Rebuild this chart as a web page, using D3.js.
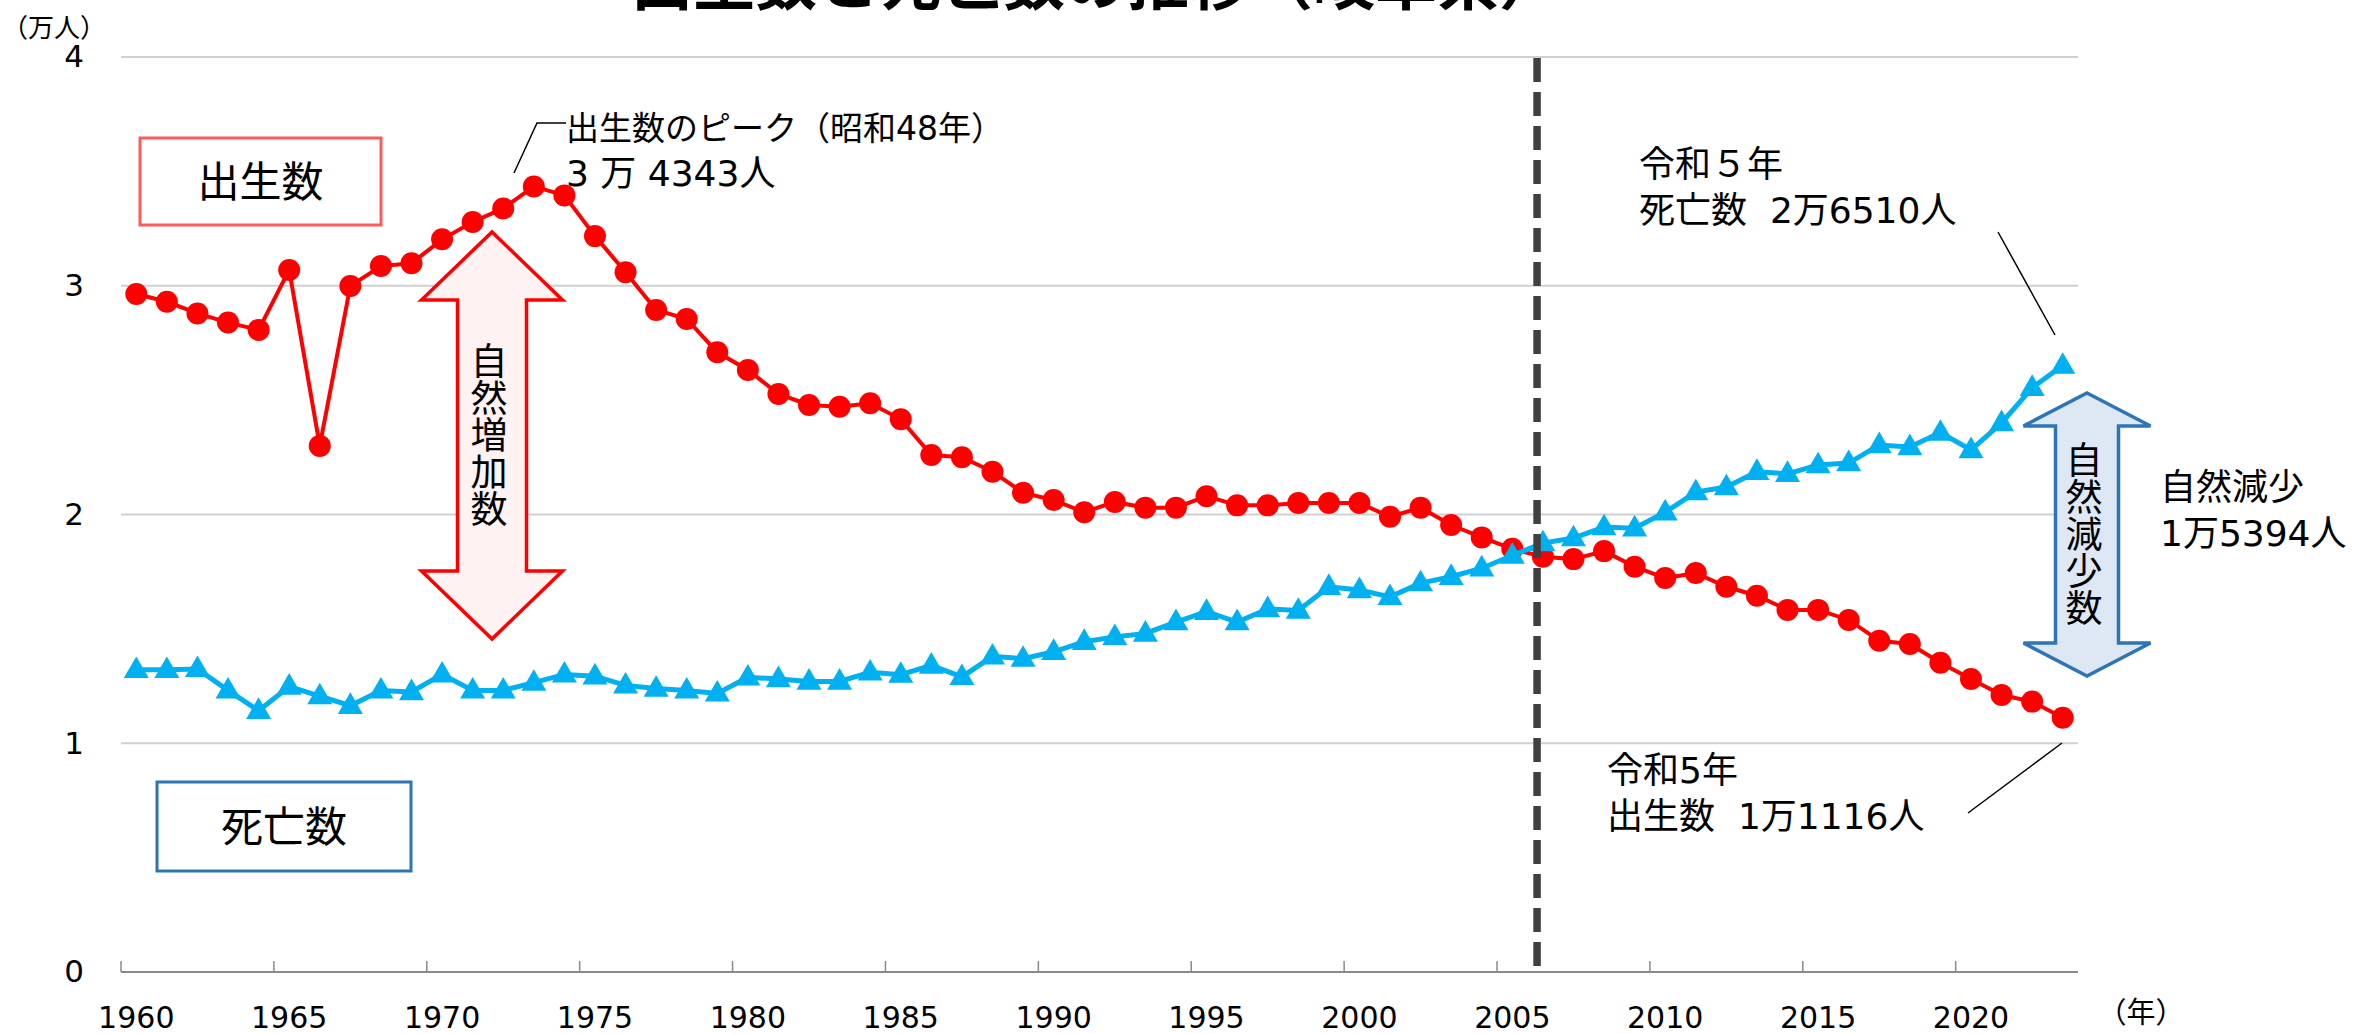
<!DOCTYPE html>
<html>
<head>
<meta charset="utf-8">
<script src="https://cdn.jsdelivr.net/npm/d3@7"></script>
<style>
  body { margin: 0; background: #fff; }
  svg { display: block; }
  text { font-family: "DejaVu Sans", "Noto Sans CJK JP", sans-serif; fill: #000; }
  .cjk { font-family: "Noto Sans CJK JP", "Noto Sans", sans-serif; }
</style>
</head>
<body>
<div id="chart"></div>
<script>
// ===== data (万人) =====
var years = d3.range(1960, 2024);
var tickYears = [1960, 1965, 1970, 1975, 1980, 1985, 1990, 1995, 2000, 2005, 2010, 2015, 2020];
var yTicks = [0, 1, 2, 3, 4];

var births = [2.964, 2.930, 2.879, 2.839, 2.807, 3.069, 2.300, 2.999, 3.086, 3.098,
              3.203, 3.279, 3.338, 3.4343, 3.395, 3.217, 3.059, 2.894, 2.855, 2.709,
              2.632, 2.527, 2.479, 2.471, 2.486, 2.416, 2.260, 2.250, 2.187, 2.095,
              2.063, 2.010, 2.055, 2.030, 2.030, 2.080, 2.040, 2.040, 2.050, 2.050,
              2.050, 1.990, 2.030, 1.954, 1.900, 1.850, 1.815, 1.805, 1.840, 1.772,
              1.722, 1.744, 1.684, 1.645, 1.583, 1.583, 1.539, 1.448, 1.434, 1.352,
              1.281, 1.211, 1.182, 1.1116];

var deaths = [1.321, 1.321, 1.325, 1.231, 1.142, 1.248, 1.206, 1.164, 1.231, 1.224,
              1.301, 1.231, 1.231, 1.265, 1.301, 1.293, 1.253, 1.239, 1.231, 1.218,
              1.288, 1.281, 1.270, 1.270, 1.310, 1.300, 1.340, 1.290, 1.380, 1.370,
              1.400, 1.444, 1.465, 1.480, 1.530, 1.575, 1.530, 1.587, 1.580, 1.684,
              1.670, 1.640, 1.700, 1.728, 1.765, 1.821, 1.875, 1.897, 1.945, 1.940,
              2.010, 2.098, 2.120, 2.187, 2.178, 2.216, 2.225, 2.304, 2.295, 2.358,
              2.282, 2.400, 2.554, 2.651];

var W = 2363, H = 1034;
var plotL = 121, plotR = 2078, plotT = 57, plotB = 972;

var svg = d3.select("#chart").append("svg")
    .attr("width", W)
    .attr("height", H);

// scales
var x = d3.scaleBand().domain(years).range([plotL, plotR]).padding(0);
var px = function(yr) { return x(yr) + x.bandwidth() / 2; };
var y = d3.scaleLinear().domain([0, 4]).range([plotB, plotT]);

// Title (cut off at the top edge)
svg.append("text")
    .attr("class", "cjk")
    .attr("x", 1096).attr("y", 5)
    .attr("text-anchor", "middle")
    .style("font-size", "62px")
    .attr("font-weight", "bold")
    .text("出生数と死亡数の推移（岐阜県）");

// gridlines
svg.append("g").selectAll("line")
    .data(yTicks.filter(function(d) { return d > 0; }))
    .enter().append("line")
    .attr("x1", plotL).attr("x2", plotR)
    .attr("y1", function(d) { return y(d); })
    .attr("y2", function(d) { return y(d); })
    .attr("stroke", "#d0d0d0")
    .attr("stroke-width", 2);

// x axis line + ticks at category boundaries
svg.append("line")
    .attr("x1", plotL).attr("x2", plotR)
    .attr("y1", y(0)).attr("y2", y(0))
    .attr("stroke", "#8a8a8a").attr("stroke-width", 2);

svg.append("g").selectAll("line")
    .data(tickYears)
    .enter().append("line")
    .attr("x1", function(d) { return x(d); })
    .attr("x2", function(d) { return x(d); })
    .attr("y1", y(0) - 11).attr("y2", y(0))
    .attr("stroke", "#8a8a8a").attr("stroke-width", 1.5);

// x labels (centred on category)
var xAxis = svg.append("g")
    .attr("transform", "translate(0," + (y(0) + 45) + ")")
    .call(d3.axisBottom(x).tickValues(tickYears).tickSize(0));
xAxis.select(".domain").remove();
xAxis.attr("font-family", null).attr("font-size", null);
xAxis.selectAll("text")
    .attr("y", 0)
    .attr("dy", "0.36em")
    .style("font-size", "30px");

// y labels
var yAxis = svg.append("g")
    .attr("transform", "translate(" + 84 + ",0)")
    .call(d3.axisLeft(y).tickValues(yTicks).tickSize(0).tickFormat(d3.format("d")));
yAxis.select(".domain").remove();
yAxis.attr("font-family", null).attr("font-size", null);
yAxis.selectAll("text")
    .attr("x", 0)
    .style("font-size", "31px");

// unit labels
svg.append("text").attr("class", "cjk").attr("x", 54).attr("y", 37)
    .attr("text-anchor", "middle").style("font-size", "26px").text("（万人）");
svg.append("text").attr("class", "cjk").attr("x", 2141).attr("y", 1023)
    .attr("text-anchor", "middle").style("font-size", "29px").text("（年）");

// births line
var lineB = d3.line()
    .x(function(d, i) { return px(years[i]); })
    .y(function(d) { return y(d); });

svg.append("path")
    .datum(births)
    .attr("d", lineB)
    .attr("fill", "none")
    .attr("stroke", "#ff0000")
    .attr("stroke-width", 4);

svg.append("g").selectAll("circle")
    .data(births)
    .enter().append("circle")
    .attr("cx", function(d, i) { return px(years[i]); })
    .attr("cy", function(d) { return y(d); })
    .attr("r", 11)
    .attr("fill", "#ff0000");

// deaths line
svg.append("path")
    .datum(deaths)
    .attr("d", lineB)
    .attr("fill", "none")
    .attr("stroke", "#00b0f0")
    .attr("stroke-width", 5);

var tri = d3.symbol().type(d3.symbolTriangle).size(270);
svg.append("g").selectAll("path")
    .data(deaths)
    .enter().append("path")
    .attr("d", tri)
    .attr("transform", function(d, i) {
        return "translate(" + px(years[i]) + "," + (y(d) + 1) + ")";
    })
    .attr("fill", "#00b0f0");

// dashed separator
var sepX = x(2006) + x.bandwidth() * 0.31;
svg.append("line")
    .attr("x1", sepX).attr("x2", sepX)
    .attr("y1", y(4) + 1).attr("y2", y(0) - 6)
    .attr("stroke", "#404040")
    .attr("stroke-width", 7.5)
    .attr("stroke-dasharray", "24,10");

// legend boxes
function labelBox(x0, y0, w, h, stroke, txt) {
    svg.append("rect")
        .attr("x", x0).attr("y", y0).attr("width", w).attr("height", h)
        .attr("fill", "#fff").attr("stroke", stroke).attr("stroke-width", 3);
    svg.append("text")
        .attr("class", "cjk")
        .attr("x", x0 + w / 2).attr("y", y0 + h / 2)
        .attr("dy", "0.36em")
        .attr("text-anchor", "middle")
        .style("font-size", "42px")
        .text(txt);
}
labelBox(140, 138, 241, 87, "#ff5b5b", "出生数");
labelBox(157, 782, 254, 89, "#2e75b6", "死亡数");

// double-headed block arrows
function blockArrow(cx, yTop, yBot, headH, headW, shaftW, fill, stroke, chars) {
    var pts = [
        [cx, yTop],
        [cx + headW / 2, yTop + headH],
        [cx + shaftW / 2, yTop + headH],
        [cx + shaftW / 2, yBot - headH],
        [cx + headW / 2, yBot - headH],
        [cx, yBot],
        [cx - headW / 2, yBot - headH],
        [cx - shaftW / 2, yBot - headH],
        [cx - shaftW / 2, yTop + headH],
        [cx - headW / 2, yTop + headH]
    ];
    svg.append("path")
        .attr("d", d3.line()(pts) + "Z")
        .attr("fill", fill)
        .attr("stroke", stroke)
        .attr("stroke-width", 3.5)
        .attr("stroke-linejoin", "miter");
    var mid = (yTop + yBot) / 2, step = 37;
    svg.append("g").selectAll("text")
        .data(chars.split(""))
        .enter().append("text")
        .attr("class", "cjk")
        .attr("x", cx - 3)
        .attr("y", function(d, i) { return mid + (i - (chars.length - 1) / 2) * step; })
        .attr("dy", "0.36em")
        .attr("text-anchor", "middle")
        .style("font-size", "37px")
        .text(function(d) { return d; });
}
blockArrow(492, 232, 639, 68, 141, 69, "#fff2f2", "#ff0000", "自然増加数");
blockArrow(2087, 393, 676, 33, 127, 63, "#dde8f4", "#2e75b6", "自然減少数");

// annotations
function multiText(x0, y0, lines, sizes, gap) {
    var t = svg.append("text");
    lines.forEach(function(s, i) {
        t.append("tspan").attr("x", x0).attr("y", y0 + i * gap)
            .style("font-size", sizes[i] + "px").text(s);
    });
}
multiText(566, 140, ["出生数のピーク（昭和48年）", "3 万 4343人"], [33, 36], 46);
multiText(1639, 177, ["令和５年", "死亡数\u00a0\u00a02万6510人"], [36, 36], 46);
multiText(1607, 783, ["令和5年", "出生数\u00a0\u00a01万1116人"], [36, 36], 46);
multiText(2160, 500, ["自然減少", "1万5394人"], [36, 36], 46);

// leader lines
var lead = svg.append("g").attr("fill", "none").attr("stroke", "#000").attr("stroke-width", 1.5);
lead.append("path").attr("d", d3.line()([[566, 123], [537, 123], [514, 173]]));
lead.append("path").attr("d", d3.line()([[1998, 232], [2055, 335]]));
lead.append("path").attr("d", d3.line()([[1968, 813], [2062, 743]]));
</script>
</body>
</html>
